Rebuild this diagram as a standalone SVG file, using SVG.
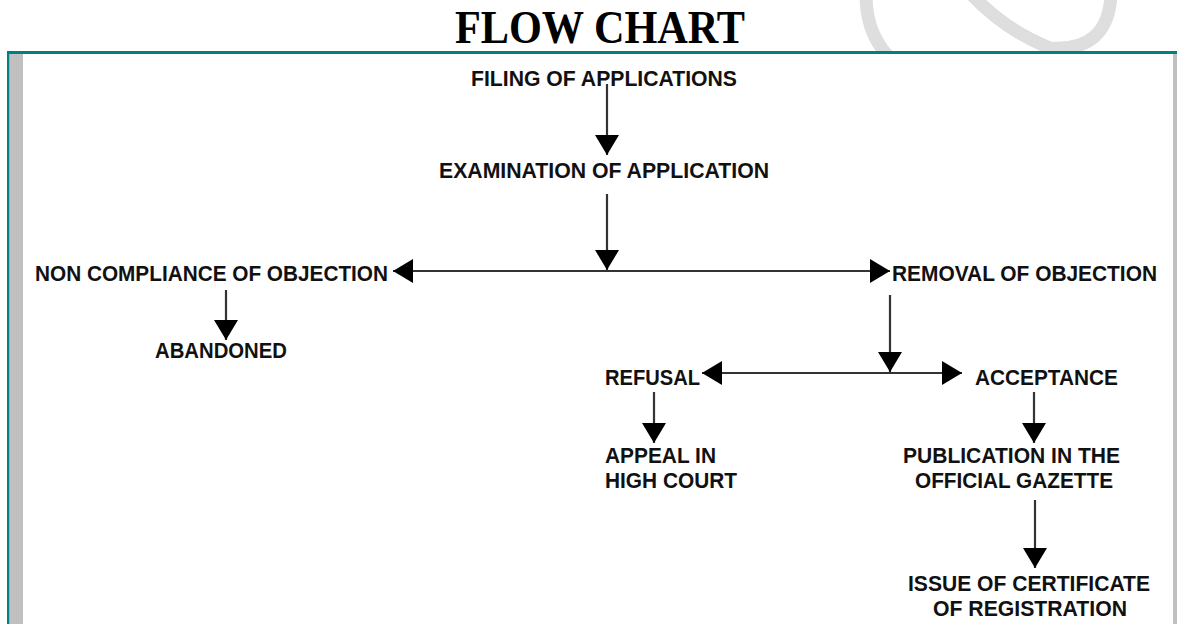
<svg xmlns="http://www.w3.org/2000/svg" width="1177" height="624" viewBox="0 0 1177 624">
  <style>
    .lbl { font-family: "Liberation Sans", Arial, sans-serif; font-weight: bold; font-size: 22.5px; fill: #111; }
    .title { font-family: "Liberation Serif", "Times New Roman", serif; font-weight: bold; font-size: 46px; fill: #000; }
    .conn { stroke: #333; stroke-width: 2.2; fill: none; }
    .wm { stroke: #dedede; stroke-width: 13; fill: none; }
  </style>
  <defs>
    <marker id="ah" markerUnits="userSpaceOnUse" markerWidth="22" markerHeight="24" viewBox="0 0 20 24" refX="20" refY="12" orient="auto-start-reverse">
      <path d="M0,0 L20,12 L0,24 Z" fill="#000"/>
    </marker>
    <clipPath id="topclip"><rect x="0" y="0" width="1177" height="51"/></clipPath>
  </defs>
  <rect x="0" y="0" width="1177" height="624" fill="#fff"/>
  <g id="watermark" clip-path="url(#topclip)">
    <path class="wm" d="M866,-5 Q866,32 888,56"/>
    <path class="wm" d="M972,-5 Q1005,30 1050,48 Q1108,52 1111,-5"/>
  </g>
  <g id="title">
    <text class="title" x="455" y="43" textLength="290" lengthAdjust="spacingAndGlyphs">FLOW CHART</text>
  </g>
  <g id="frame">
    <rect x="7" y="51" width="1170" height="3" fill="#008080"/>
    <rect x="7" y="51" width="2.5" height="573" fill="#008080"/>
    <rect x="10" y="54" width="13" height="570" fill="#c0c0c0"/>
    <rect x="1173" y="54" width="4" height="570" fill="#c0c0c0"/>
  </g>
  <g id="connectors">
    <line class="conn" x1="607" y1="84" x2="607" y2="155" marker-end="url(#ah)"/>
    <line class="conn" x1="607" y1="194" x2="607" y2="270" marker-end="url(#ah)"/>
    <line class="conn" x1="393" y1="271" x2="890" y2="271" marker-start="url(#ah)" marker-end="url(#ah)"/>
    <line class="conn" x1="226" y1="290" x2="226" y2="340" marker-end="url(#ah)"/>
    <line class="conn" x1="890" y1="295" x2="890" y2="372" marker-end="url(#ah)"/>
    <line class="conn" x1="702" y1="373" x2="962" y2="373" stroke-width="3" marker-start="url(#ah)" marker-end="url(#ah)"/>
    <line class="conn" x1="654" y1="392" x2="654" y2="443" marker-end="url(#ah)"/>
    <line class="conn" x1="1034" y1="392" x2="1034" y2="443" marker-end="url(#ah)"/>
    <line class="conn" x1="1035" y1="500" x2="1035" y2="568" marker-end="url(#ah)"/>
  </g>
  <g id="filing"><text class="lbl" x="471" y="86" textLength="266" lengthAdjust="spacingAndGlyphs">FILING OF APPLICATIONS</text></g>
  <g id="examination"><text class="lbl" x="439" y="178" textLength="330" lengthAdjust="spacingAndGlyphs">EXAMINATION OF APPLICATION</text></g>
  <g id="noncompliance"><text class="lbl" x="35" y="281" textLength="353" lengthAdjust="spacingAndGlyphs">NON COMPLIANCE OF OBJECTION</text></g>
  <g id="removal"><text class="lbl" x="892" y="281" textLength="265" lengthAdjust="spacingAndGlyphs">REMOVAL OF OBJECTION</text></g>
  <g id="abandoned"><text class="lbl" x="155" y="358" textLength="132" lengthAdjust="spacingAndGlyphs">ABANDONED</text></g>
  <g id="refusal"><text class="lbl" x="605" y="385" textLength="95" lengthAdjust="spacingAndGlyphs">REFUSAL</text></g>
  <g id="acceptance"><text class="lbl" x="975" y="385" textLength="143" lengthAdjust="spacingAndGlyphs">ACCEPTANCE</text></g>
  <g id="appeal">
    <text class="lbl" x="605" y="463" textLength="111" lengthAdjust="spacingAndGlyphs">APPEAL IN</text>
    <text class="lbl" x="605" y="488" textLength="132" lengthAdjust="spacingAndGlyphs">HIGH COURT</text>
  </g>
  <g id="publication">
    <text class="lbl" x="903" y="463" textLength="217" lengthAdjust="spacingAndGlyphs">PUBLICATION IN THE</text>
    <text class="lbl" x="915" y="488" textLength="198" lengthAdjust="spacingAndGlyphs">OFFICIAL GAZETTE</text>
  </g>
  <g id="certificate">
    <text class="lbl" x="908" y="591" textLength="242" lengthAdjust="spacingAndGlyphs">ISSUE OF CERTIFICATE</text>
    <text class="lbl" x="933" y="616" textLength="194" lengthAdjust="spacingAndGlyphs">OF REGISTRATION</text>
  </g>
</svg>
